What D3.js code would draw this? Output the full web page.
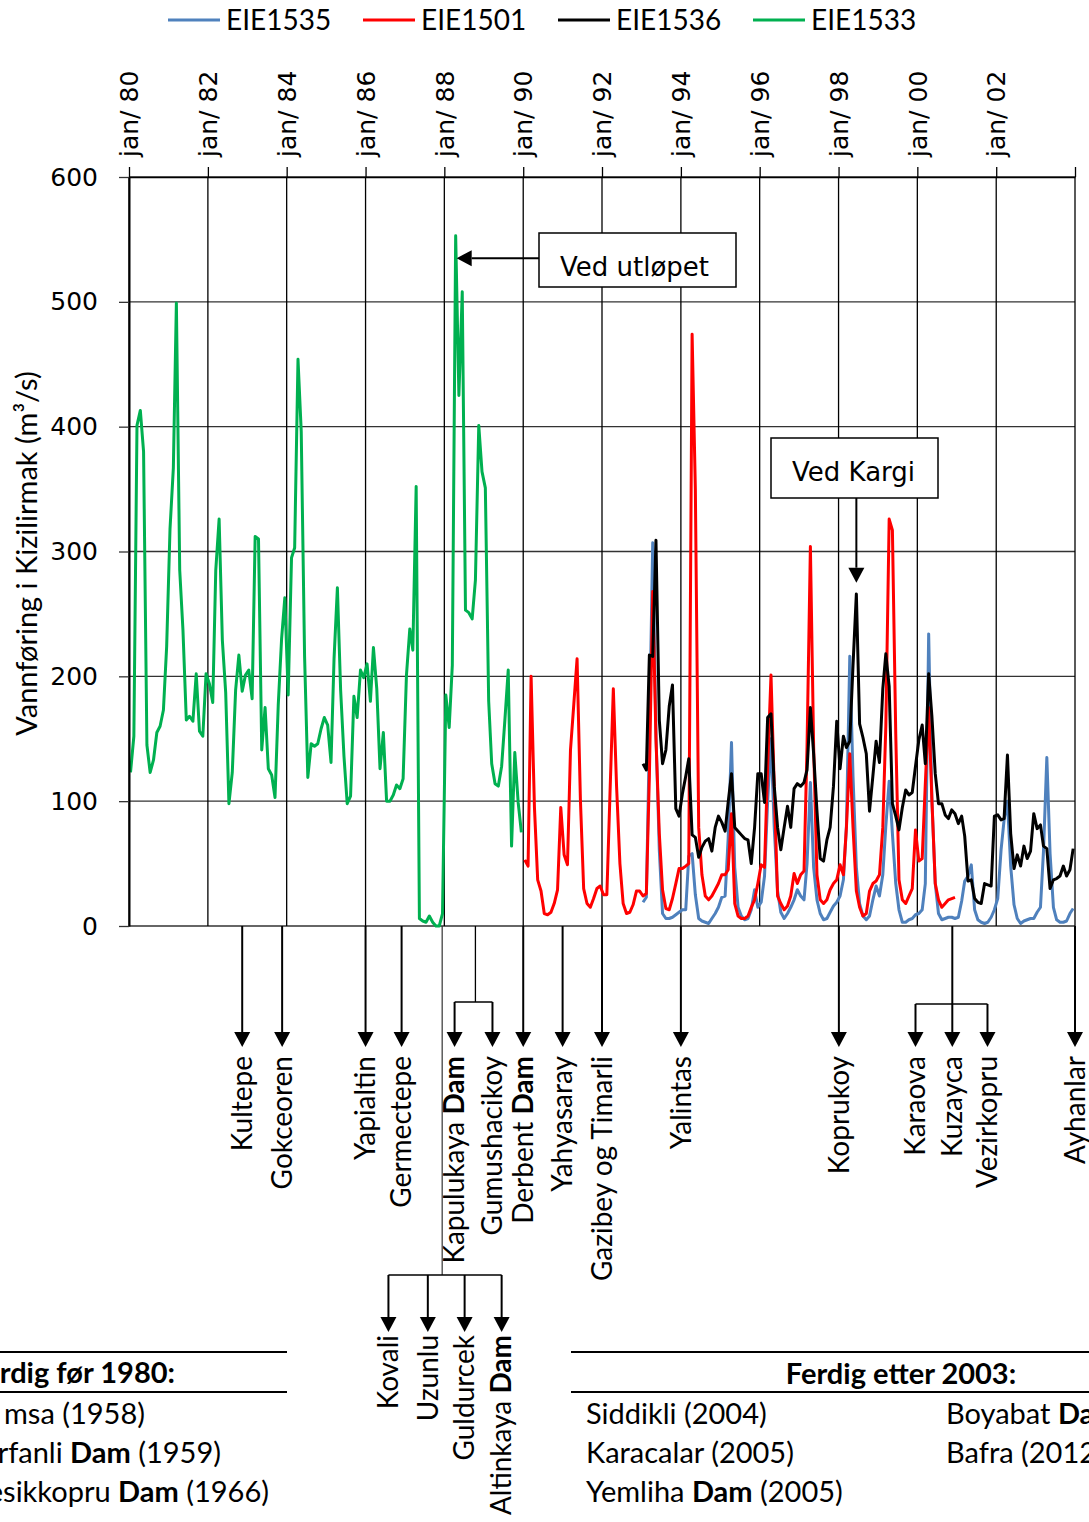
<!DOCTYPE html>
<html>
<head>
<meta charset="utf-8">
<script src="https://cdn.jsdelivr.net/npm/d3@7"></script>
<style>
  body { margin: 0; background: #fff; }
  svg { display: block; }
</style>
</head>
<body>
<svg id="chart"></svg>
<script>
// Series names and colours (legend order = drawing order)
var seriesNames = ["EIE1535", "EIE1501", "EIE1536", "EIE1533"];
var seriesColors = ["#4f81bd", "#ff0000", "#000000", "#00b050"];

// Monthly discharge (m3/s). Start = month index counted from jan 1980
var eie1533Start = 0;
var eie1533 = [123, 152, 401, 413, 380, 145, 123, 133, 155, 160,
  173, 224, 318, 367, 499, 285, 237, 165, 168, 164,
  202, 156, 152, 202, 194, 179, 285, 326, 229, 187,
  98, 123, 189, 217, 188, 201, 205, 182, 312, 310,
  141, 175, 126, 121, 103, 177, 230, 263, 185, 295,
  303, 454, 396, 216, 119, 146, 144, 146, 158, 167,
  161, 131, 214, 271, 189, 136, 98, 104, 184, 167,
  205, 199, 210, 180, 223, 190, 126, 155, 100, 100,
  105, 113, 110, 118, 201, 238, 221, 352, 6, 4,
  3, 8, 3, 0, 0, 10, 185, 159, 209, 553,
  425, 508, 253, 251, 246, 277, 401, 364, 351, 180,
  130, 114, 112, 128, 165, 205, 64, 139, 99, 75];

var eie1501Start = 120;
var eie1501 = [53, 48, 200, 95, 37, 28, 10, 9, 11, 18,
  29, 95, 57, 49, 141, 178, 214, 101, 30, 18,
  15, 22, 30, 32, 25, 25, 106, 190, 112, 50,
  18, 10, 11, 17, 28, 28, 24, 26, 120, 268,
  150, 74, 29, 14, 13, 22, 34, 46, 46, 48,
  50, 474, 350, 79, 41, 24, 21, 24, 29, 34,
  41, 41, 45, 90, 18, 8, 6, 6, 8, 15,
  21, 34, 49, 47, 128, 201, 112, 24, 18, 13,
  16, 24, 42, 34, 41, 44, 144, 304, 144, 41,
  21, 18, 21, 29, 34, 37, 49, 41, 79, 138,
  79, 28, 15, 8, 10, 28, 34, 36, 41, 79,
  160, 326, 317, 154, 37, 21, 18, 24, 30, 77,
  52, 54, 114, 175, 101, 34, 21, 15, 18, 21,
  22, 23];

var eie1536Start = 156;
var eie1536 = [130, 125, 217, 216, 309, 165, 130, 141, 176, 193,
  94, 88, 106, 120, 134, 73, 71, 55, 63, 68,
  70, 60, 79, 88, 83, 76, 99, 122, 79, 76,
  73, 70, 69, 50, 79, 122, 122, 99, 167, 170,
  112, 79, 61, 79, 96, 79, 110, 114, 112, 115,
  125, 175, 138, 92, 54, 52, 69, 79, 112, 164,
  126, 152, 143, 148, 209, 266, 162, 151, 138, 92,
  120, 148, 131, 190, 218, 192, 98, 88, 77, 95,
  109, 105, 107, 128, 149, 161, 130, 202, 168, 122,
  98, 98, 89, 86, 93, 90, 82, 88, 72, 36,
  37, 22, 19, 18, 34, 33, 32, 88, 89, 85,
  86, 137, 74, 46, 57, 48, 64, 54, 60, 90,
  78, 81, 64, 62, 30, 37, 38, 40, 48, 40,
  45, 62];

var eie1535Start = 156;
var eie1535 = [19, 23, 150, 307, 154, 61, 10, 6, 6, 7,
  9, 11, 13, 13, 56, 58, 25, 6, 4, 3,
  2, 6, 10, 15, 23, 24, 70, 147, 47, 15,
  8, 5, 6, 13, 29, 15, 19, 40, 100, 150,
  79, 28, 11, 6, 10, 15, 21, 29, 24, 21,
  50, 115, 47, 21, 10, 5, 6, 11, 16, 19,
  24, 37, 80, 216, 120, 47, 18, 8, 5, 8,
  21, 32, 24, 41, 80, 116, 74, 34, 13, 3,
  3, 5, 6, 9, 10, 13, 34, 234, 101, 34,
  10, 5, 6, 7, 7, 6, 7, 20, 36, 40,
  49, 13, 5, 3, 2, 3, 7, 13, 22, 61,
  85, 100, 48, 17, 6, 2, 4, 5, 6, 6,
  11, 15, 60, 135, 58, 15, 5, 3, 3, 4,
  10, 14];

// Axis ticks
var yTicks = [0, 100, 200, 300, 400, 500, 600];
var xTickYears = [1980, 1982, 1984, 1986, 1988, 1990, 1992, 1994, 1996, 1998, 2000, 2002, 2004];

// Plants / dams pointed at below the time axis
var stationNames = ["Kultepe", "Gokceoren", "Yapialtin", "Germectepe", "Derbent Dam",
  "Yahyasaray", "Gazibey og Timarli", "Yalintas", "Koprukoy", "Ayhanlar"];
var stationDates = ["1982-11-15", "1983-11-20", "1986-01-01", "1986-12-01", "1990-01-01",
  "1991-01-01", "1992-01-01", "1994-01-01", "1998-01-04", "2004-01-01"];

var group1Stem = "1988-10-15";
var group1Names = ["Kapulukaya Dam", "Gumushacikoy"];
var group1Dates = ["1988-04-05", "1989-03-22"];

var group2Stem = "2000-11-20";
var group2Names = ["Karaova", "Kuzayca", "Vezirkopru"];
var group2Dates = ["1999-12-15", "2000-11-20", "2001-10-12"];

var group3Stem = "1987-12-12";
var group3Names = ["Kovali", "Uzunlu", "Guldurcek", "Altinkaya Dam"];
var group3Dates = ["1986-08-01", "1987-08-01", "1988-07-07", "1989-06-15"];

// Call-out boxes: text, pointed date and value
var calloutTexts = ["Ved utløpet", "Ved Kargi"];
var calloutDates = ["1988-04-15", "1998-06-15"];
var calloutValues = [535, 275];

// Tables under the chart
var leftHeader = "Ferdig før 1980:";
var leftRows = ["msa (1958)", "Hirfanli Dam (1959)", "Kesikkopru Dam (1966)"];
var rightHeader = "Ferdig etter 2003:";
var rightCol1 = ["Siddikli (2004)", "Karacalar (2005)", "Yemliha Dam (2005)"];
var rightCol2 = ["Boyabat Dam", "Bafra (2012)"];

var W = 1089, H = 1522;
var plot = { left: 129, right: 1075, top: 177, bottom: 926 };
var calibri = "Lato";
var verdana = "DejaVu Sans";
var parseDate = d3.timeParse("%Y-%m-%d");

var svg = d3.select('#chart')
  .attr('width', W)
  .attr('height', H)
  .style('font-family', calibri);

// Scales
var x = d3.scaleTime()
  .domain([new Date(1980, 0, 1), new Date(2004, 0, 1)])
  .range([plot.left, plot.right]);
var y = d3.scaleLinear()
  .domain([0, 600])
  .range([plot.bottom, plot.top]);

function toPoints(start, values) {
  return values.map(function (v, i) {
    return { date: new Date(1980, start + i, 15), value: v };
  });
}
var seriesData = [
  toPoints(eie1535Start, eie1535),
  toPoints(eie1501Start, eie1501),
  toPoints(eie1536Start, eie1536),
  toPoints(eie1533Start, eie1533)
];
var xTickDates = xTickYears.map(function (yr) { return new Date(yr, 0, 1); });

// Gridlines
svg.append('g').selectAll('line')
  .data(yTicks)
  .enter().append('line')
  .attr('x1', plot.left).attr('x2', plot.right)
  .attr('y1', function (d) { return y(d); })
  .attr('y2', function (d) { return y(d); })
  .attr('stroke', '#333').attr('stroke-width', 1.3);

svg.append('g').selectAll('line')
  .data(xTickDates)
  .enter().append('line')
  .attr('x1', function (d) { return x(d); })
  .attr('x2', function (d) { return x(d); })
  .attr('y1', plot.top).attr('y2', plot.bottom)
  .attr('stroke', '#000').attr('stroke-width', 1.3);

// Series lines
var line = d3.line()
  .x(function (d) { return x(d.date); })
  .y(function (d) { return y(d.value); });

svg.append('g').selectAll('path')
  .data(seriesData)
  .enter().append('path')
  .attr('d', line)
  .attr('fill', 'none')
  .attr('stroke', function (d, i) { return seriesColors[i]; })
  .attr('stroke-width', 3)
  .attr('stroke-linejoin', 'round');

// Axes
var yAxis = d3.axisLeft(y)
  .tickValues(yTicks)
  .tickSize(10)
  .tickSizeOuter(0)
  .tickPadding(21);
var gy = svg.append('g')
  .attr('transform', 'translate(' + plot.left + ',0)')
  .call(yAxis);
gy.select('.domain').attr('stroke', '#000').attr('stroke-width', 2);
gy.selectAll('.tick line').attr('stroke', '#333').attr('stroke-width', 1.3);
gy.selectAll('text')
  .style('font-family', verdana)
  .style('font-size', '25px')
  .attr('fill', '#000');

var xAxis = d3.axisTop(x)
  .tickValues(xTickDates)
  .tickSize(10)
  .tickSizeOuter(0)
  .tickFormat(function (d) {
    return d.getFullYear() < 2004 ? 'jan/ ' + d3.timeFormat('%y')(d) : '';
  });
var gx = svg.append('g')
  .attr('transform', 'translate(0,' + plot.top + ')')
  .call(xAxis);
gx.select('.domain').attr('stroke', '#000').attr('stroke-width', 1.3);
gx.selectAll('.tick line').attr('stroke', '#000').attr('stroke-width', 1.3);
gx.selectAll('text')
  .attr('transform', 'rotate(-90)')
  .attr('x', 20)
  .attr('y', 0)
  .attr('dy', '0.35em')
  .style('text-anchor', 'start')
  .style('font-family', verdana)
  .style('font-size', '25px')
  .attr('fill', '#000');

// Y axis title
svg.append('text')
  .attr('transform', 'translate(27,' + ((plot.top + plot.bottom) / 2 + 2) + ') rotate(-90)')
  .attr('dy', '0.35em')
  .style('text-anchor', 'middle')
  .style('font-size', '29px')
  .text('Vannføring i Kizilirmak (m³/s)');

// Legend
var legend = svg.append('g').selectAll('g')
  .data(seriesNames)
  .enter().append('g')
  .attr('transform', function (d, i) { return 'translate(' + (168 + i * 195) + ',20)'; });
legend.append('line')
  .attr('x1', 0).attr('x2', 52)
  .attr('stroke', function (d, i) { return seriesColors[i]; })
  .attr('stroke-width', 3);
legend.append('text')
  .attr('x', 58)
  .attr('dy', '0.35em')
  .style('font-size', '28px')
  .text(function (d) { return d; });

// Helpers for annotations
function arrow(g, x1, y1, x2, y2, w) {
  var ang = Math.atan2(y2 - y1, x2 - x1), L = 15, Hh = 8;
  var bx = x2 - L * Math.cos(ang), by = y2 - L * Math.sin(ang);
  g.append('line')
    .attr('x1', x1).attr('y1', y1).attr('x2', bx).attr('y2', by)
    .attr('stroke', '#000').attr('stroke-width', w || 2);
  g.append('path')
    .attr('d', 'M' + x2 + ',' + y2 +
      'L' + (bx + Hh * Math.sin(ang)) + ',' + (by - Hh * Math.cos(ang)) +
      'L' + (bx - Hh * Math.sin(ang)) + ',' + (by + Hh * Math.cos(ang)) + 'Z')
    .attr('fill', '#000');
}

function richText(sel, str) {
  str.split(/(\bDam\b)/).forEach(function (part) {
    if (!part) return;
    sel.append('tspan')
      .style('font-weight', part === 'Dam' ? 'bold' : 'normal')
      .text(part);
  });
}

function vLabel(g, xp, yEnd, name) {
  var t = g.append('text')
    .attr('transform', 'translate(' + xp + ',' + yEnd + ') rotate(-90)')
    .attr('dy', '0.35em')
    .style('text-anchor', 'end')
    .style('font-size', '28px');
  richText(t, name);
}

var ann = svg.append('g');
var y0 = plot.bottom, tipY = 1047, labelY = 1056;

// Single arrows
stationNames.forEach(function (name, i) {
  var xp = x(parseDate(stationDates[i]));
  arrow(ann, xp, y0, xp, tipY, 2);
  vLabel(ann, xp, labelY, name);
});

// Group 1: Kapulukaya / Gumushacikoy
var s1 = x(parseDate(group1Stem)), bar1 = 1002;
var g1x = group1Dates.map(function (d) { return x(parseDate(d)); });
ann.append('line').attr('x1', s1).attr('x2', s1).attr('y1', y0).attr('y2', bar1)
  .attr('stroke', '#000').attr('stroke-width', 1.3);
ann.append('line').attr('x1', d3.min(g1x)).attr('x2', d3.max(g1x)).attr('y1', bar1).attr('y2', bar1)
  .attr('stroke', '#000').attr('stroke-width', 1.5);
group1Names.forEach(function (name, i) {
  arrow(ann, g1x[i], bar1, g1x[i], tipY, 2);
  vLabel(ann, g1x[i], labelY, name);
});

// Group 2: Karaova / Kuzayca / Vezirkopru
var s2 = x(parseDate(group2Stem)), bar2 = 1004;
var g2x = group2Dates.map(function (d) { return x(parseDate(d)); });
ann.append('line').attr('x1', s2).attr('x2', s2).attr('y1', y0).attr('y2', bar2)
  .attr('stroke', '#000').attr('stroke-width', 2);
ann.append('line').attr('x1', d3.min(g2x)).attr('x2', d3.max(g2x)).attr('y1', bar2).attr('y2', bar2)
  .attr('stroke', '#000').attr('stroke-width', 1.5);
group2Names.forEach(function (name, i) {
  arrow(ann, g2x[i], bar2, g2x[i], tipY, 2);
  vLabel(ann, g2x[i], labelY, name);
});

// Group 3: Kovali / Uzunlu / Guldurcek / Altinkaya
var s3 = x(parseDate(group3Stem)), bar3 = 1275, tip3 = 1332;
var g3x = group3Dates.map(function (d) { return x(parseDate(d)); });
ann.append('line').attr('x1', s3).attr('x2', s3).attr('y1', y0).attr('y2', bar3)
  .attr('stroke', '#333').attr('stroke-width', 1.2);
ann.append('line').attr('x1', d3.min(g3x)).attr('x2', d3.max(g3x)).attr('y1', bar3).attr('y2', bar3)
  .attr('stroke', '#000').attr('stroke-width', 1.5);
group3Names.forEach(function (name, i) {
  arrow(ann, g3x[i], bar3, g3x[i], tip3, 2);
  vLabel(ann, g3x[i], tip3 + 3, name);
});

// Call-out boxes
var boxes = [
  { x: 539, y: 233, w: 197, h: 54, tx: 560, ty: 276 },
  { x: 771, y: 438, w: 167, h: 60, tx: 792, ty: 481 }
];
calloutTexts.forEach(function (txt, i) {
  var b = boxes[i];
  var px = x(parseDate(calloutDates[i])), py = y(calloutValues[i]);
  if (i === 0) arrow(ann, b.x, py, px + 1, py, 2);
  else arrow(ann, px, b.y + b.h, px, py, 2);
  ann.append('rect')
    .attr('x', b.x).attr('y', b.y).attr('width', b.w).attr('height', b.h)
    .attr('fill', '#fff').attr('stroke', '#000').attr('stroke-width', 1.5);
  ann.append('text')
    .attr('x', b.tx).attr('y', b.ty)
    .style('font-family', verdana)
    .style('font-size', '26px')
    .text(txt);
});

// Tables
var tbl = svg.append('g').style('font-size', '29px');
[1352, 1392].forEach(function (ly) {
  tbl.append('line').attr('x1', 0).attr('x2', 287).attr('y1', ly).attr('y2', ly)
    .attr('stroke', '#000').attr('stroke-width', 2);
  tbl.append('line').attr('x1', 571).attr('x2', W).attr('y1', ly).attr('y2', ly)
    .attr('stroke', '#000').attr('stroke-width', 2);
});
tbl.append('text')
  .attr('x', 175).attr('y', 1383)
  .style('text-anchor', 'end').style('font-weight', 'bold')
  .text(leftHeader);
var leftEnds = [145, 221, 269];
leftRows.forEach(function (r, i) {
  var t = tbl.append('text')
    .attr('x', leftEnds[i]).attr('y', 1424 + i * 39)
    .style('text-anchor', 'end');
  richText(t, r);
});
tbl.append('text')
  .attr('x', 901).attr('y', 1384)
  .style('text-anchor', 'middle').style('font-weight', 'bold')
  .text(rightHeader);
rightCol1.forEach(function (r, i) {
  var t = tbl.append('text').attr('x', 586).attr('y', 1424 + i * 39);
  richText(t, r);
});
rightCol2.forEach(function (r, i) {
  var t = tbl.append('text').attr('x', 946).attr('y', 1424 + i * 39);
  richText(t, r);
});
</script>
</body>
</html>
